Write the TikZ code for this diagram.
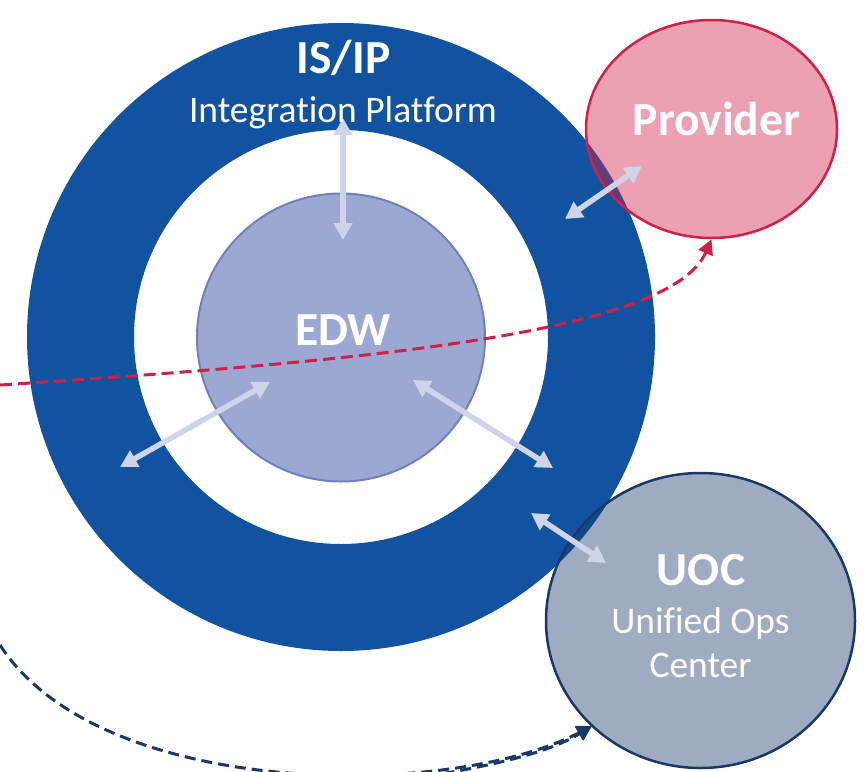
\documentclass[tikz,border=0pt]{standalone}
\usepackage{fontspec}
\setmainfont[Ligatures=NoCommon]{Carlito}
\usetikzlibrary{arrows.meta,shapes.geometric}
\definecolor{ringblue}{RGB}{17,83,160}
\definecolor{edwfill}{RGB}{157,168,210}
\definecolor{edwline}{RGB}{112,128,190}
\definecolor{lav}{RGB}{206,212,233}
\definecolor{crimson}{RGB}{209,31,72}
\definecolor{navy}{RGB}{24,56,104}
\tikzset{
  lavarrow/.style={draw=lav, line width=5.5pt, {Triangle[length=17pt,width=18pt]}-{Triangle[length=17pt,width=18pt]}},
  reddash/.style={draw=crimson, line width=3pt, dash pattern=on 12pt off 6pt, -{Triangle[length=15pt,width=15pt]}},
  navydash/.style={draw=navy, line width=3pt, dash pattern=on 11pt off 6pt, -{Triangle[length=15pt,width=15pt]}},
  boldlabel/.style={anchor=base, text=white, font=\bfseries\fontsize{47.5}{47.5}\selectfont, inner sep=0},
  reglabel/.style={anchor=base, text=white, font=\fontsize{37.5}{37.5}\selectfont, inner sep=0},
}
\begin{document}
\begin{tikzpicture}[x=1pt,y=-1pt]
\useasboundingbox (0,0) rectangle (864,771);
% ring
\node[circle, draw=ringblue, line width=107pt, minimum size=521pt, inner sep=0] (isip) at (341,337) {};
% EDW
\node[circle, fill=edwfill, draw=edwline, line width=2pt, minimum size=288pt, inner sep=0] (edw) at (341,337.5) {};
% Provider
\node[ellipse, fill=crimson, fill opacity=0.42, draw=crimson, draw opacity=1, line width=2.5pt, minimum width=251pt, minimum height=218pt, inner sep=0] (provider) at (711.5,129) {};
% UOC
\node[ellipse, fill=navy, fill opacity=0.42, draw=navy, draw opacity=1, line width=2.5pt, minimum width=309pt, minimum height=295pt, inner sep=0] (uoc) at (700.5,620.5) {};
% dashed connectors
\coordinate (redstart) at (0,385);
\coordinate (navystart) at (0,645);
\coordinate (navystart2) at (410,779);
\draw[reddash] (redstart) .. controls (350,362) and (670,335) .. (provider.south);
\coordinate (uoctip) at (592,726);
\draw[navydash] (navystart) .. controls (100,800) and (450,800) .. (uoctip);
\draw[navydash] (navystart2) .. controls (480,768) and (545,755) .. (uoctip);
% light arrows
\coordinate (v1) at (343,118); \coordinate (v2) at (343,240);
\coordinate (p1) at (565,219); \coordinate (p2) at (642,166);
\coordinate (l1) at (120,467); \coordinate (l2) at (270,382);
\coordinate (r1) at (413,380); \coordinate (r2) at (553,468);
\coordinate (u1) at (531,513); \coordinate (u2) at (606,563);
\draw[lavarrow] (v1) -- (v2);
\draw[lavarrow] (p1) -- (p2);
\draw[lavarrow] (l1) -- (l2);
\draw[lavarrow] (r1) -- (r2);
\draw[lavarrow] (u1) -- (u2);
% labels
\node[boldlabel] (isiplabel) at (343.5,73) {IS/IP};
\node[reglabel] (isipsub) at (343,122) {Integration Platform};
\node[boldlabel] (edwlabel) at (343,345) {EDW};
\node[boldlabel] (providerlabel) at (716.5,135) {Provider};
\node[boldlabel] (uoclabel) at (701,585) {UOC};
\node[reglabel] (uocsub1) at (700.5,633) {Unified Ops};
\node[reglabel] (uocsub2) at (700.5,677) {Center};
\end{tikzpicture}
\end{document}
